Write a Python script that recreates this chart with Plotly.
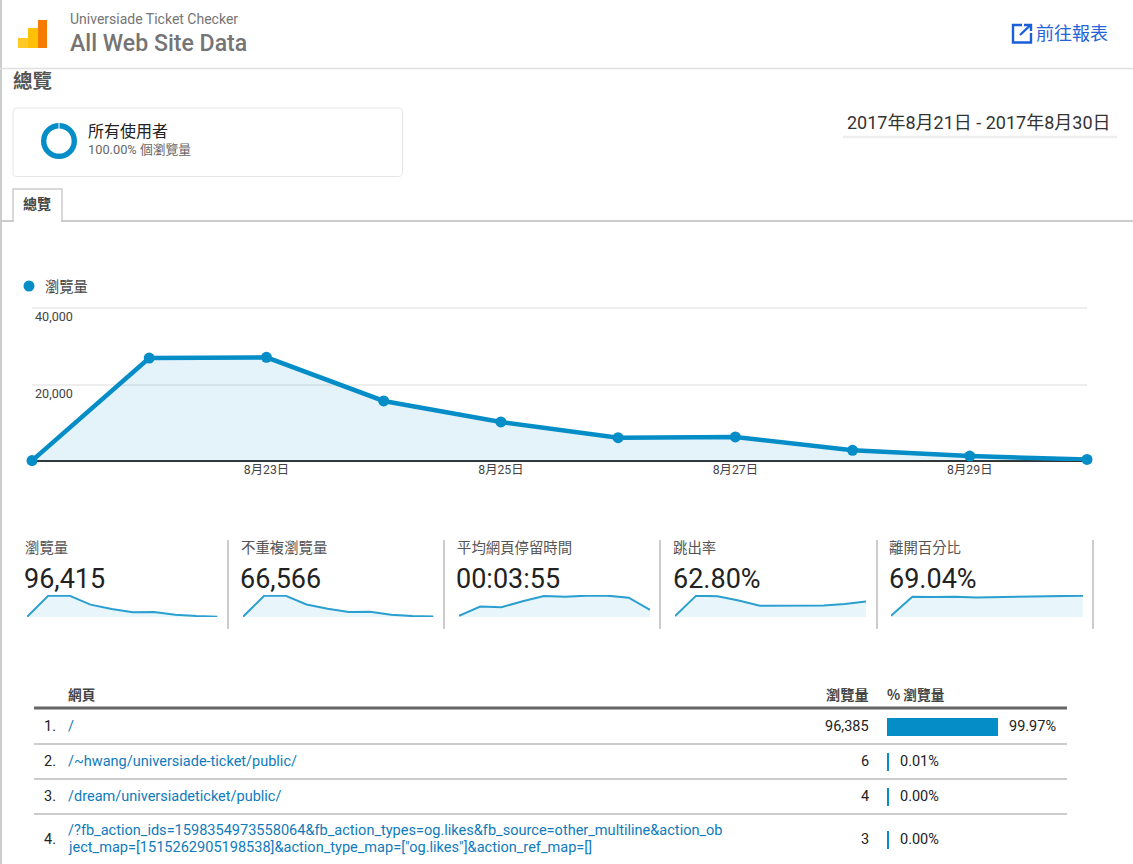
import plotly.graph_objects as go

W, H = 1133, 864
FONT = "Roboto, 'Noto Sans CJK TC', sans-serif"
CJK = "'Noto Sans CJK TC', Roboto, sans-serif"
BLUE = "#058DC7"
FILL = "rgba(5,141,199,0.11)"
SPARK_FILL = "rgba(5,141,199,0.09)"

dates = ["2017-08-21", "2017-08-22", "2017-08-23", "2017-08-24", "2017-08-25",
         "2017-08-26", "2017-08-27", "2017-08-28", "2017-08-29", "2017-08-30"]
pageviews = [100, 26900, 27100, 15700, 10200, 6100, 6300, 2800, 1300, 400]
tick_dates = ["2017-08-21", "2017-08-23", "2017-08-25", "2017-08-27", "2017-08-29"]
tick_labels = ['<span style="color:#4a90b8">…</span>', "8月23日", "8月25日", "8月27日", "8月29日"]

metric_names = ["瀏覽量", "不重複瀏覽量", "平均網頁停留時間", "跳出率", "離開百分比"]
metric_values = ["96,415", "66,566", "00:03:55", "62.80%", "69.04%"]
spark_unique = [200, 18400, 18500, 10900, 7100, 4300, 4500, 1900, 800, 400]
spark_time = [15, 145, 135, 218, 290, 280, 295, 295, 266, 97]
spark_bounce = [3, 70, 68, 54, 37, 37, 37, 38, 43, 51]
spark_exit = [4, 68.4, 67.2, 68.4, 66, 67.2, 68.4, 69.6, 69.6, 72]
spark_series = [pageviews, spark_unique, spark_time, spark_bounce, spark_exit]

pages = ["/", "/~hwang/universiade-ticket/public/", "/dream/universiadeticket/public/"]
page4_lines = ["/?fb_action_ids=1598354973558064&fb_action_types=og.likes&fb_source=other_multiline&action_ob",
               'ject_map=[1515262905198538]&action_type_map=["og.likes"]&action_ref_map=[]']
page_views = [96385, 6, 4, 3]
page_pct = ["99.97%", "0.01%", "0.00%", "0.00%"]
total_views = 96415


def px(x):
    return x / W


def py(y):
    return 1 - y / H


annotations = []
shapes = []


def text(x, y, s, size=14, color="#222", anchor="left", family=FONT, weight=None):
    f = dict(size=size, color=color, family=family)
    if weight:
        f["weight"] = weight
    annotations.append(dict(x=px(x), y=py(y), xref="paper", yref="paper", text=s, showarrow=False,
                            xanchor=anchor, yanchor="middle", font=f, borderpad=0, borderwidth=0))


def line(x0, y0, x1, y1, color, width=1, layer="above"):
    shapes.append(dict(type="line", xref="paper", yref="paper", x0=px(x0), y0=py(y0), x1=px(x1), y1=py(y1),
                       line=dict(color=color, width=width), layer=layer))


def poly(points, fill=None, color=None, width=0):
    d = "M" + " L".join(f"{px(a):.5f},{py(b):.5f}" for a, b in points)
    if fill:
        d += " Z"
    shapes.append(dict(type="path", xref="paper", yref="paper", path=d, fillcolor=fill or "rgba(0,0,0,0)",
                       line=dict(color=color or "rgba(0,0,0,0)", width=width)))


def round_box(x0, y0, x1, y1, r, color):
    def p(a, b):
        return f"{px(a):.5f},{py(b):.5f}"
    d = (f"M{p(x0 + r, y0)} L{p(x1 - r, y0)} Q{p(x1, y0)} {p(x1, y0 + r)} L{p(x1, y1 - r)} Q{p(x1, y1)} {p(x1 - r, y1)} "
         f"L{p(x0 + r, y1)} Q{p(x0, y1)} {p(x0, y1 - r)} L{p(x0, y0 + r)} Q{p(x0, y0)} {p(x0 + r, y0)} Z")
    shapes.append(dict(type="path", xref="paper", yref="paper", path=d, fillcolor="rgba(0,0,0,0)",
                       line=dict(color=color, width=1)))


# page frame
line(1, 0, 1, H, "#cccccc", 2)
line(0, 68.5, W, 68.5, "#e0e0e0", 1.5)

# header
poly([(28, 28), (38, 28), (38, 48), (28, 48)], fill="#FFC107")
poly([(18, 38), (28, 38), (28, 48), (18, 48)], fill="#FFCA28")
poly([(38, 20), (47, 20), (47, 48), (38, 48)], fill="#F57C00")
text(70, 19, "Universiade Ticket Checker", 14, "#757575")
text(70, 43.5, "All Web Site Data", 23.1, "#757575", weight=500)
text(1036, 31.5, "前往報表", 18, "#2563d6", family=CJK)
poly([(1022, 25), (1013, 25), (1013, 42.5), (1031, 42.5), (1031, 33)], color="#1a5fd8", width=2.4)
line(1020, 35, 1030, 25.5, "#1a5fd8", 2.4)
poly([(1024, 25), (1031, 25), (1031, 31)], color="#1a5fd8", width=2.4)

text(13, 79.5, "總覽", 19.5, "#555555", family=CJK, weight=700)
round_box(13, 108, 402.5, 176.5, 4, "#e6e6e6")
text(88, 130.5, "所有使用者", 16, "#222", family=CJK)
text(88, 149, "100.00% 個瀏覽量", 12.8, "#666666")
line(59, 122.5, 59, 129, "white", 1)
text(1111, 122, "2017年8月21日 - 2017年8月30日", 18, "#333333", anchor="right")
line(843, 137, 1117, 137, "#eeeeee", 2.5)

# tab
line(2, 221, W, 221, "#cccccc", 2)
shapes.append(dict(type="rect", xref="paper", yref="paper", x0=px(13), x1=px(62), y0=py(189), y1=py(221),
                   line=dict(color="#cccccc", width=1.5), fillcolor="rgba(0,0,0,0)"))
line(14, 221, 61, 221, "white", 2)
text(23, 203, "總覽", 14, "#444444", family=CJK, weight=700)

# legend
shapes.append(dict(type="circle", xref="paper", yref="paper", x0=px(23.5), x1=px(34.5), y0=py(291.5), y1=py(280.5),
                   fillcolor=BLUE, line=dict(width=0)))
text(45, 285.5, "瀏覽量", 14.3, "#444444", family=CJK)

# chart baseline, below the traces
line(32, 461, 1088, 461, "#333333", 2, layer="below")

# metric blocks
block_x = [25, 241, 457, 673, 889]
value_x = [24, 240, 456, 673, 889]
spark_x = [(27, 217.5), (243, 433.5), (459, 650), (675, 866), (891, 1083)]
sep_x = [228, 444, 660, 877, 1093]
for i in range(5):
    text(block_x[i], 546.5, metric_names[i], 14.4, "#555555", family=CJK)
    text(value_x[i], 579, metric_values[i], 27, "#222222")
    line(sep_x[i], 540, sep_x[i], 629, "#cccccc", 2)

# table
text(68, 694, "網頁", 13.7, "#444444", family=CJK, weight=700)
text(869, 694, "瀏覽量", 14.2, "#444444", anchor="right", family=CJK, weight=700)
text(887, 694, "% 瀏覽量", 13.7, "#444444", family=CJK, weight=700)
line(34, 708, 1067, 708, "#666666", 3)
for y in (744, 779, 814):
    line(34, y, 1067, y, "#cccccc", 2)
row_y = [727, 762, 797, 840]
LINK = "#0f7bbd"
for i in range(3):
    text(68, row_y[i] - 1, pages[i], 14.5, LINK)
text(68, 830.5, page4_lines[0], 14.55, LINK)
text(68, 847.5, page4_lines[1], 14.55, LINK)
for i in range(4):
    text(56, row_y[i] - 1, f"{i + 1}.", 14.5, "#222222", anchor="right")
    text(869, row_y[i] - 1, f"{page_views[i]:,}", 14.5, "#222222", anchor="right")
    text(1009 if i == 0 else 900, row_y[i] - 1, page_pct[i], 14.5, "#222222")

fig = go.Figure()
layout = {}

# main chart
fig.add_trace(go.Scatter(x=dates, y=pageviews, mode="lines+markers", fill="tozeroy", fillcolor=FILL,
                         line=dict(color=BLUE, width=4.5), marker=dict(color=BLUE, size=11),
                         cliponaxis=False, showlegend=False, xaxis="x", yaxis="y"))
layout["xaxis"] = dict(domain=[px(32), px(1087)], range=[dates[0], dates[-1]], type="date",
                       tickvals=tick_dates, ticktext=tick_labels, ticks="", showgrid=False, zeroline=False,
                       showline=False, layer="below traces", automargin=False,
                       tickfont=dict(size=12.3, color="#444444", family=FONT), anchor="y")
layout["yaxis"] = dict(domain=[py(461), py(300)], range=[0, 40000 * 161 / 153], tickvals=[20000, 40000],
                       ticktext=["20,000", "40,000"], ticks="", showgrid=True, gridcolor="#eeeeee", gridwidth=2,
                       zeroline=False, showline=False, layer="below traces", ticklabelposition="inside",
                       ticklabelshift=9, automargin=False,
                       tickfont=dict(size=12.6, color="#444444", family=FONT), anchor="x")

# sparklines
ax = 2
for (x0, x1), series in zip(spark_x, spark_series):
    fig.add_trace(go.Scatter(x=dates, y=series, mode="lines", fill="tozeroy", fillcolor=SPARK_FILL,
                             line=dict(color="#2a9fd0", width=2), showlegend=False,
                             xaxis=f"x{ax}", yaxis=f"y{ax}", hoverinfo="skip"))
    layout[f"xaxis{ax}"] = dict(domain=[px(x0), px(x1)], range=[dates[0], dates[-1]], type="date", visible=False,
                                anchor=f"y{ax}")
    layout[f"yaxis{ax}"] = dict(domain=[py(617), py(595)], range=[0, max(series) * 1.03], visible=False,
                                anchor=f"x{ax}")
    ax += 1

# table bars, one axis pair per row because the rows have unequal heights;
# tiny values are shown at a 2px minimum width like the original table
BAR_X0, BAR_X1 = 887, 998
min_bar = total_views * 2 / (BAR_X1 - BAR_X0)
for i in range(4):
    fig.add_trace(go.Bar(x=[max(page_views[i], min_bar)], y=[pages[i] if i < 3 else "page4"], orientation="h",
                         marker=dict(color=BLUE, line=dict(width=0)), width=1, showlegend=False,
                         xaxis=f"x{ax}", yaxis=f"y{ax}", hoverinfo="skip"))
    layout[f"xaxis{ax}"] = dict(domain=[px(BAR_X0), px(BAR_X1)], range=[0, total_views],
                                visible=False, anchor=f"y{ax}")
    layout[f"yaxis{ax}"] = dict(domain=[py(row_y[i] + 9), py(row_y[i] - 9)], visible=False, anchor=f"x{ax}",
                                type="category")
    ax += 1

# segment donut
fig.add_trace(go.Pie(values=[100], labels=["所有使用者"], hole=0.7, sort=False, textinfo="none", showlegend=False,
                     marker=dict(colors=[BLUE], line=dict(width=0)), hoverinfo="skip",
                     domain=dict(x=[px(41), px(77)], y=[py(159), py(123)])))

fig.update_layout(width=W, height=H, margin=dict(l=0, r=0, t=0, b=0, pad=0, autoexpand=False), paper_bgcolor="white",
                  plot_bgcolor="rgba(0,0,0,0)", annotations=annotations, shapes=shapes,
                  bargap=0, font=dict(family=FONT), **layout)

fig.write_html("out.html", config={"displayModeBar": False},
               post_script="document.body.style.margin='0';document.documentElement.style.overflow='hidden';")
